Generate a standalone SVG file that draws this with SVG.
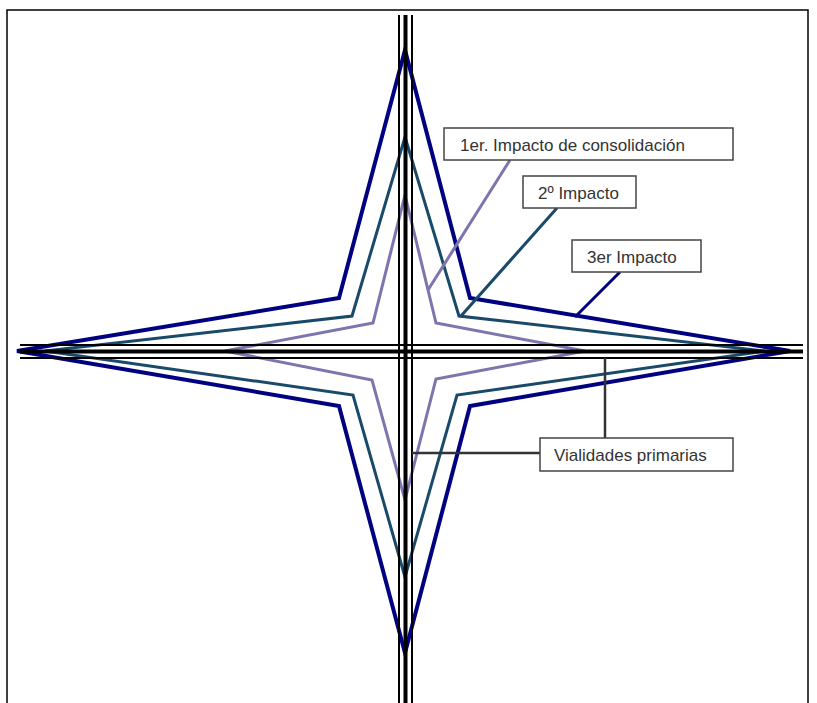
<svg xmlns="http://www.w3.org/2000/svg" width="817" height="703" viewBox="0 0 817 703">
<style>
.star{fill:none;stroke-linejoin:miter}
.s1{stroke:#000080;stroke-width:4}
.s2{stroke:#1a4a6a;stroke-width:3}
.s3{stroke:#7d75ae;stroke-width:3}
.road{stroke:#000;fill:none}
.box{fill:#fff;stroke:#444;stroke-width:1.5}
.lbl{font-family:"Liberation Sans",Arial,sans-serif;font-size:17px;fill:#333}
</style>
<rect x="0" y="0" width="817" height="703" fill="#fff"/>
<g id="frame">
<path d="M7 703 V10 H808 V703" fill="none" stroke="#000" stroke-width="1.5"/>
</g>
<g id="outer-star"><polygon class="star s1" points="405,50 470,298 790,351 470,406 405,653 339,406 17,351 339,298"/></g>
<g id="middle-star"><polygon class="star s2" points="405,137 459,316 765,351 457,395 405,577 353,395 45,351 352,316"/></g>
<g id="inner-star"><polygon class="star s3" points="405,195 436,323 585,351 436,379 405,500 372,380 225,351 373,323"/></g>
<g id="roads">
<line class="road" x1="399" y1="15" x2="399" y2="703" stroke-width="2"/>
<line class="road" x1="405.5" y1="15" x2="405.5" y2="703" stroke-width="4"/>
<line class="road" x1="412" y1="15" x2="412" y2="703" stroke-width="2"/>
<line class="road" x1="20" y1="345" x2="803" y2="345" stroke-width="2"/>
<line class="road" x1="20" y1="351.5" x2="803" y2="351.5" stroke-width="4"/>
<line class="road" x1="20" y1="358" x2="803" y2="358" stroke-width="2"/>
</g>
<g id="connectors">
<line x1="510" y1="160" x2="428" y2="290" stroke="#7d75ae" stroke-width="3"/>
<line x1="557" y1="208" x2="461" y2="316" stroke="#1a4a6a" stroke-width="3"/>
<line x1="620" y1="272" x2="575" y2="317" stroke="#000080" stroke-width="3"/>
<line x1="605" y1="358" x2="605" y2="438" stroke="#333" stroke-width="2.5"/>
<line x1="412" y1="453" x2="540" y2="453" stroke="#333" stroke-width="2.5"/>
</g>
<g id="label-1er">
<rect class="box" x="444" y="128" width="289" height="32"/>
<text class="lbl" x="460" y="151">1er. Impacto de consolidación</text>
</g>
<g id="label-2o">
<rect class="box" x="523" y="176" width="113" height="32"/>
<text class="lbl" x="538" y="199">2º Impacto</text>
</g>
<g id="label-3er">
<rect class="box" x="572" y="240" width="129" height="32"/>
<text class="lbl" x="587" y="263">3er Impacto</text>
</g>
<g id="label-vialidades">
<rect class="box" x="540" y="438" width="193" height="33"/>
<text class="lbl" x="554" y="461">Vialidades primarias</text>
</g>
</svg>
